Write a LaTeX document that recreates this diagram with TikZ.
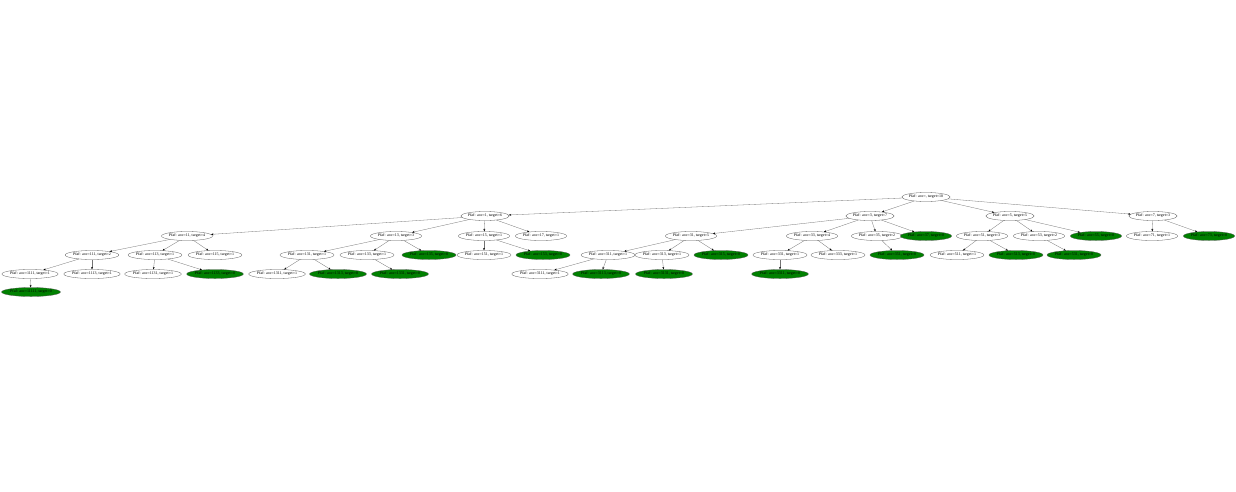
\documentclass[tikz,border=0pt]{standalone}
\usepackage{fontspec}
\setmainfont{Liberation Serif}
\usepackage{tikz}
\usetikzlibrary{arrows.meta,shapes.geometric}
\definecolor{leafgreen}{RGB}{0,128,0}
\tikzset{
  basin/.style={ellipse,draw=black!65,line width=0.3pt,inner sep=0pt,
    minimum height=9pt,minimum width=48pt,font=\fontsize{4}{4.5}\selectfont},
  done/.style={basin,fill=leafgreen},
  edge/.style={draw=black!55,line width=0.3pt,-{Stealth[length=2.4pt,width=1.8pt,black]}},
}
\begin{document}
\begin{tikzpicture}[x=1pt,y=-1pt]
  \useasboundingbox (0,0) rectangle (1236,491);
  % root and first level
  \node[basin] (p) at (926,197) {Pfaf: aoc=, target=10};
  \node[basin] (p1) at (485,216) {Pfaf: aoc=1, target=6};
  \node[basin] (p3) at (870,216) {Pfaf: aoc=3, target=7};
  \node[basin] (p5) at (1010,216) {Pfaf: aoc=5, target=5};
  \node[basin] (p7) at (1153,216) {Pfaf: aoc=7, target=3};
  % second level
  \node[basin] (p11) at (187,236) {Pfaf: aoc=11, target=4};
  \node[basin] (p13) at (396,236) {Pfaf: aoc=13, target=3};
  \node[basin] (p15) at (484,236) {Pfaf: aoc=15, target=1};
  \node[basin] (p17) at (541,236) {Pfaf: aoc=17, target=1};
  \node[basin] (p31) at (691,236) {Pfaf: aoc=31, target=5};
  \node[basin] (p33) at (812,236) {Pfaf: aoc=33, target=4};
  \node[basin] (p35) at (877,236) {Pfaf: aoc=35, target=2};
  \node[done] (p37) at (926,236) {Pfaf: aoc=37, target=0};
  \node[basin] (p51) at (982,236) {Pfaf: aoc=51, target=3};
  \node[basin] (p53) at (1039,236) {Pfaf: aoc=53, target=2};
  \node[done] (p55) at (1096,236) {Pfaf: aoc=55, target=0};
  \node[basin] (p71) at (1152,236) {Pfaf: aoc=71, target=1};
  \node[done] (p73) at (1209,236) {Pfaf: aoc=73, target=0};
  % third level
  \node[basin] (p111) at (92,255) {Pfaf: aoc=111, target=2};
  \node[basin] (p113) at (155,255) {Pfaf: aoc=113, target=1};
  \node[basin] (p115) at (215,255) {Pfaf: aoc=115, target=1};
  \node[basin] (p131) at (307,255) {Pfaf: aoc=131, target=1};
  \node[basin] (p133) at (367,255) {Pfaf: aoc=133, target=1};
  \node[done] (p135) at (429,255) {Pfaf: aoc=135, target=0};
  \node[basin] (p151) at (484,255) {Pfaf: aoc=151, target=1};
  \node[done] (p153) at (543,255) {Pfaf: aoc=153, target=0};
  \node[basin] (p311) at (608,255) {Pfaf: aoc=311, target=1};
  \node[basin] (p313) at (662,255) {Pfaf: aoc=313, target=1};
  \node[done] (p315) at (721,255) {Pfaf: aoc=315, target=0};
  \node[basin] (p331) at (780,255) {Pfaf: aoc=331, target=1};
  \node[basin] (p333) at (838,255) {Pfaf: aoc=333, target=1};
  \node[done] (p351) at (897,255) {Pfaf: aoc=351, target=0};
  \node[basin] (p511) at (957,255) {Pfaf: aoc=511, target=1};
  \node[done] (p513) at (1016,255) {Pfaf: aoc=513, target=0};
  \node[done] (p531) at (1074,255) {Pfaf: aoc=531, target=0};
  % fourth and fifth level
  \node[basin] (p1111) at (30,274) {Pfaf: aoc=1111, target=1};
  \node[basin] (p1113) at (92,274) {Pfaf: aoc=1113, target=1};
  \node[basin] (p1131) at (153,274) {Pfaf: aoc=1131, target=1};
  \node[done] (p1133) at (215,274) {Pfaf: aoc=1133, target=0};
  \node[basin] (p1311) at (277,274) {Pfaf: aoc=1311, target=1};
  \node[done] (p1313) at (338,274) {Pfaf: aoc=1313, target=0};
  \node[done] (p1331) at (400,274) {Pfaf: aoc=1331, target=0};
  \node[basin] (p3111) at (540,274) {Pfaf: aoc=3111, target=1};
  \node[done] (p3113) at (601,274) {Pfaf: aoc=3113, target=0};
  \node[done] (p3131) at (664,274) {Pfaf: aoc=3131, target=0};
  \node[done] (p3311) at (780,274) {Pfaf: aoc=3311, target=0};
  \node[done] (p11111) at (31,292) {Pfaf: aoc=11111, target=0};
  % root -> first level
  \draw[edge] (p) -- (p1);
  \draw[edge] (p) -- (p3);
  \draw[edge] (p) -- (p5);
  \draw[edge] (p) -- (p7);
  % basin 1
  \draw[edge] (p1) -- (p11);
  \draw[edge] (p1) -- (p13);
  \draw[edge] (p1) -- (p15);
  \draw[edge] (p1) -- (p17);
  \draw[edge] (p11) -- (p111);
  \draw[edge] (p11) -- (p113);
  \draw[edge] (p11) -- (p115);
  \draw[edge] (p111) -- (p1111);
  \draw[edge] (p111) -- (p1113);
  \draw[edge] (p113) -- (p1131);
  \draw[edge] (p113) -- (p1133);
  \draw[edge] (p1111) -- (p11111);
  \draw[edge] (p13) -- (p131);
  \draw[edge] (p13) -- (p133);
  \draw[edge] (p13) -- (p135);
  \draw[edge] (p131) -- (p1311);
  \draw[edge] (p131) -- (p1313);
  \draw[edge] (p133) -- (p1331);
  \draw[edge] (p15) -- (p151);
  \draw[edge] (p15) -- (p153);
  % basin 3
  \draw[edge] (p3) -- (p31);
  \draw[edge] (p3) -- (p33);
  \draw[edge] (p3) -- (p35);
  \draw[edge] (p3) -- (p37);
  \draw[edge] (p31) -- (p311);
  \draw[edge] (p31) -- (p313);
  \draw[edge] (p31) -- (p315);
  \draw[edge] (p311) -- (p3111);
  \draw[edge] (p311) -- (p3113);
  \draw[edge] (p313) -- (p3131);
  \draw[edge] (p33) -- (p331);
  \draw[edge] (p33) -- (p333);
  \draw[edge] (p331) -- (p3311);
  \draw[edge] (p35) -- (p351);
  % basin 5
  \draw[edge] (p5) -- (p51);
  \draw[edge] (p5) -- (p53);
  \draw[edge] (p5) -- (p55);
  \draw[edge] (p51) -- (p511);
  \draw[edge] (p51) -- (p513);
  \draw[edge] (p53) -- (p531);
  % basin 7
  \draw[edge] (p7) -- (p71);
  \draw[edge] (p7) -- (p73);
\end{tikzpicture}
\end{document}
